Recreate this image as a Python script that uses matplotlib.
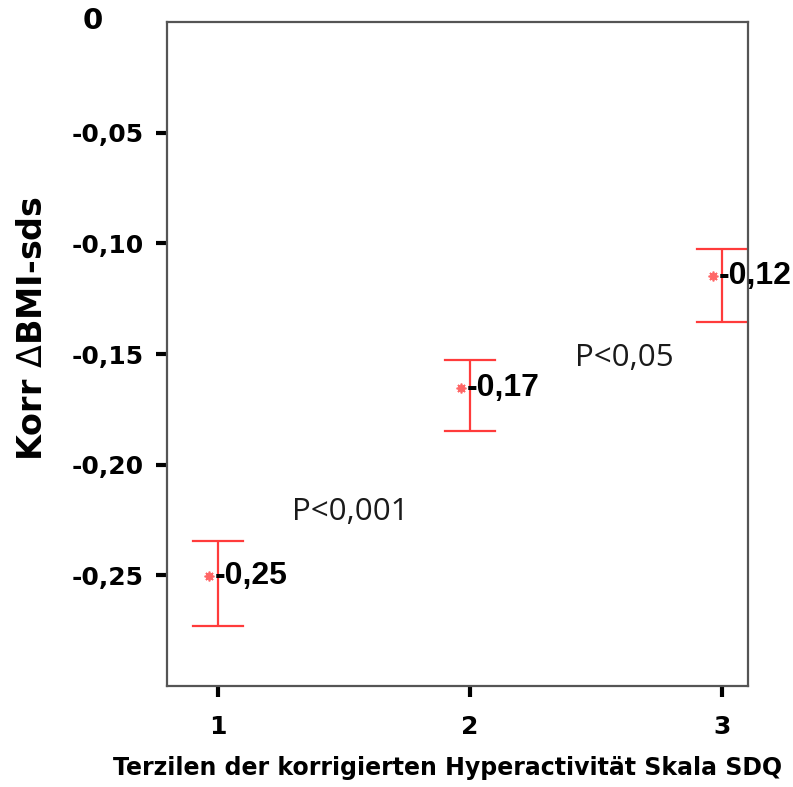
import matplotlib
matplotlib.use('Agg')
import matplotlib.pyplot as plt
import matplotlib.transforms as mtransforms

plt.rcParams['font.family'] = ['Liberation Sans', 'DejaVu Sans']
plt.rcParams['mathtext.fontset'] = 'dejavusans'

# Terzilen und Mittelwerte mit Fehlerbalken
groups = [1, 2, 3]
means = [-0.2505, -0.1653, -0.1149]
err_upper = [-0.2347, -0.1527, -0.1027]
err_lower = [-0.2730, -0.1847, -0.1356]
value_labels = ['-0,25', '-0,17', '-0,12']
ytick_vals = [-0.05, -0.10, -0.15, -0.20, -0.25]
ytick_labels = ['-0,05', '-0,10', '-0,15', '-0,20', '-0,25']
p_texts = ['P<0,001', 'P<0,05']
p_pos = [(1.524, -0.2212), (2.611, -0.1518)]

red = '#ff3b3b'
wide = 'DejaVu Sans'

fig = plt.figure(figsize=(7.93, 7.87), dpi=100)
ax = fig.add_axes([0.2106, 0.1283, 0.7327, 0.8437])

# Fehlerbalken
for g, lo, hi in zip(groups, err_lower, err_upper):
    ax.plot([g, g], [lo, hi], color=red, lw=1.6, solid_capstyle='butt')
    ax.plot([g - 0.1, g + 0.1], [lo, lo], color=red, lw=1.6)
    ax.plot([g - 0.1, g + 0.1], [hi, hi], color=red, lw=1.6)

# Mittelwert-Marker (leicht links versetzt)
ax.plot([g - 0.037 for g in groups], means, linestyle='none',
        marker=(8, 2, 0), markersize=7, color='#ff6666', mew=1.2)
ax.plot([g - 0.037 for g in groups], means, linestyle='none',
        marker='o', markersize=4, mfc='none', mec='#ff6666', mew=1)

for g, m, lab in zip(groups, means, value_labels):
    ax.text(g - 0.012, m, lab, ha='left', va='center', fontsize=23,
            fontweight='bold', color='black')

for t, (px, py) in zip(p_texts, p_pos):
    ax.text(px, py, t, ha='center', va='center', fontsize=22.5,
            family='Open Sans', color='#1a1a1a')

ax.set_xlim(0.798, 3.103)
ax.set_ylim(-0.30, 0)
ax.set_xticks(groups)
ax.set_xticklabels([str(g) for g in groups], fontsize=18, fontweight='bold',
                   family=wide)
ax.set_yticks(ytick_vals)
ax.set_yticklabels(ytick_labels, fontsize=18, fontweight='bold', family=wide)
ax.tick_params(axis='both', direction='out', length=8, width=3, color='black')
ax.tick_params(axis='y', pad=9)
ax.tick_params(axis='x', pad=13)

# "0" oben links
trans = mtransforms.blended_transform_factory(ax.transAxes, ax.transData)
ax.text(-0.127, 0.0005, '0', transform=trans, ha='center', va='center',
        fontsize=21, fontweight='bold', family=wide)

for s in ax.spines.values():
    s.set_color('#555555')
    s.set_linewidth(1.6)

ax.set_ylabel('Korr $\\Delta$BMI-sds', fontsize=24, fontweight='bold',
              family=wide)
ax.yaxis.set_label_coords(-0.203, 0.538)
ax.set_xlabel('Terzilen der korrigierten Hyperactivität Skala SDQ',
              fontsize=17, fontweight='bold', family=wide)
ax.xaxis.set_label_coords(0.483, -0.106)

fig.savefig('out.png', dpi=100)
